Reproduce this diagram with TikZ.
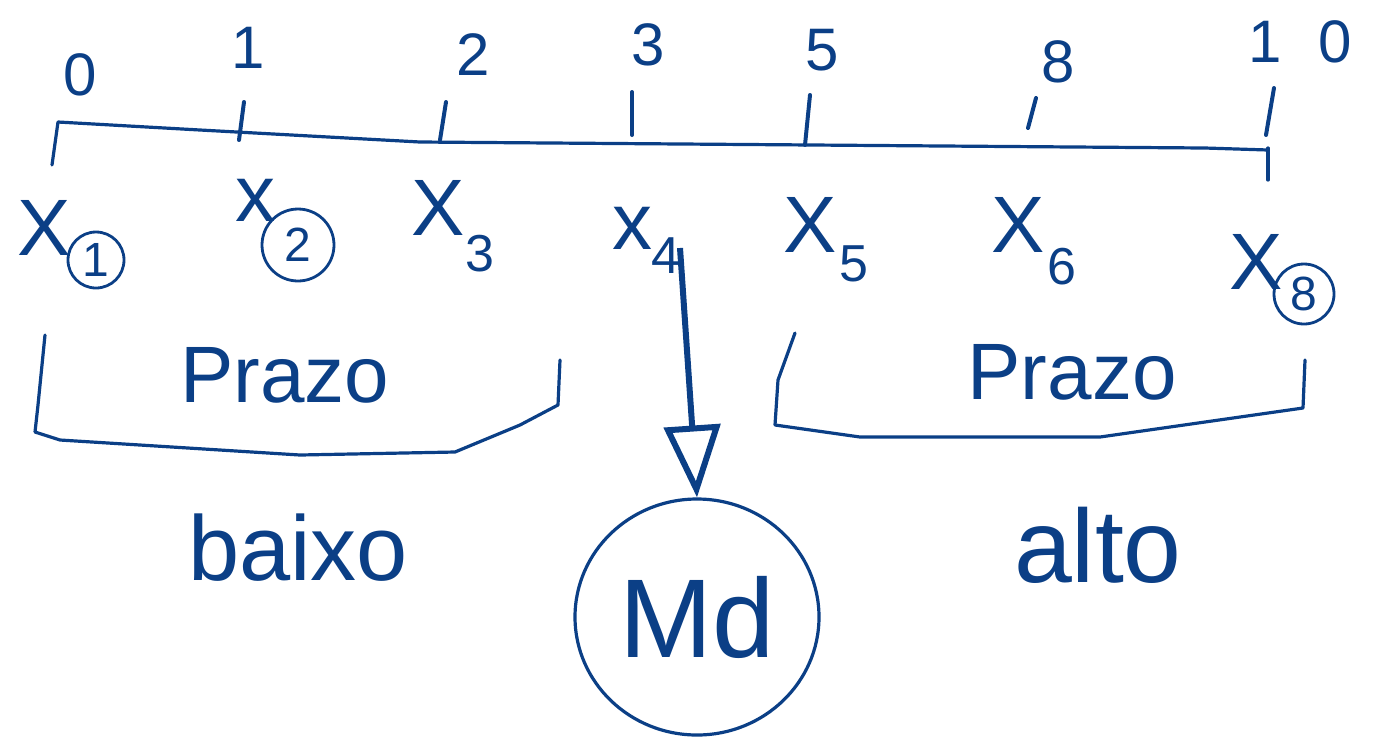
\documentclass[tikz,border=0pt]{standalone}
\usepackage{fontspec}
\setmainfont{Liberation Sans}
\usetikzlibrary{arrows.meta,shapes.geometric}
\definecolor{ink}{HTML}{0B3F86}
\begin{document}
\begin{tikzpicture}[x=0.5pt,y=-0.5pt,
  every node/.style={text=ink},
  pen/.style={draw=ink,line width=1.6pt,line cap=round,line join=round},
  num/.style={font=\fontsize{30}{34}\selectfont},
  xl/.style={font=\fontsize{40}{44}\selectfont},
  sub/.style={font=\fontsize{26}{30}\selectfont},
  csub/.style={font=\fontsize{24}{28}\selectfont,draw=ink,line width=1.4pt,circle,inner sep=1pt,minimum size=32pt},
  word/.style={font=\fontsize{40}{44}\selectfont},
  word2/.style={font=\fontsize{46}{50}\selectfont},
  tick/.style={pen,line width=2pt}]
\useasboundingbox (0,0) rectangle (1376,741);
% top numbers
\node[num] (n0) at (80,75) {0};
\node[num] (n1) at (248,48) {1};
\node[num] (n2) at (473,55) {2};
\node[num] (n3) at (648,45) {3};
\node[num] (n5) at (822,50) {5};
\node[num] (n8) at (1058,62) {8};
\node[num] (n10) at (1300,42) {1\hspace{18pt}0};
% axis
\coordinate (a0) at (52,165);
\coordinate (a1) at (58,122);
\coordinate (a2) at (1268,150);
\draw[pen] (a0) -- (a1) -- (200,130) -- (420,142) -- (1205,148) -- (a2);
\draw[pen] (1268,148) -- (1268,180);
% ticks
\draw[tick] (244,102) -- (239,140);
\draw[tick] (446,102) -- (440,140);
\draw[tick] (632,92) -- (632,135);
\draw[tick] (810,95) -- (805,145);
\draw[tick] (1036,98) -- (1028,128);
\draw[tick] (1274,88) -- (1266,135);
% x labels
\node[xl] (x1) at (44,228) {X};
\node[csub,minimum size=28pt] (s1) at (96,260) {1};
\node[xl] (x2) at (255,200) {x};
\node[csub,minimum size=36pt] (s2) at (298,245) {2};
\node[xl] (x3) at (438,208) {X};
\node[sub] (s3) at (480,254) {3};
\node[xl] (x4) at (632,228) {x};
\node[sub] (s4) at (666,256) {4};
\node[xl] (x5) at (810,225) {X};
\node[sub] (s5) at (854,264) {5};
\node[xl] (x6) at (1018,225) {X};
\node[sub] (s6) at (1062,267) {6};
\node[xl] (x8) at (1256,262) {X};
\node[csub,minimum size=30pt] (s8) at (1304,294) {8};
% brackets
\draw[pen] (45,335) -- (38,405) -- (35,432) -- (60,440) -- (300,455) -- (455,452) -- (520,425) -- (558,405) -- (560,360);
\node[word] (p1) at (285,375) {Prazo};
\draw[pen] (795,333) -- (778,380) -- (775,425) -- (860,437) -- (1100,437) -- (1303,408) -- (1305,360);
\node[word] (p2) at (1072,372) {Prazo};
\node[word2] (b) at (298,548) {baixo};
\node[word2,font=\fontsize{52}{56}\selectfont] (al) at (1098,545) {alto};
% Md
\node[ellipse,draw=ink,line width=1.6pt,minimum width=122pt,minimum height=118pt,inner sep=0pt,font=\fontsize{56}{60}\selectfont] (md) at (697,617) {Md};
\draw[ink,line width=3pt,-{Triangle[length=36pt,width=28pt,open]}] (680,248) -- (md.north);
\end{tikzpicture}
\end{document}
